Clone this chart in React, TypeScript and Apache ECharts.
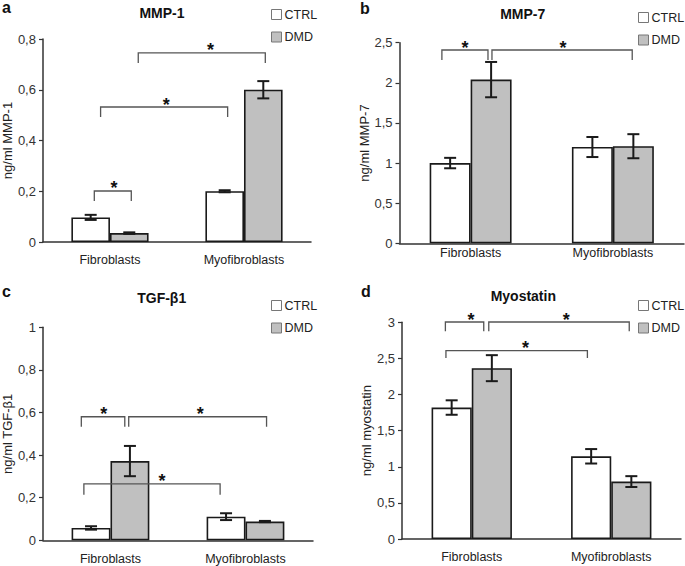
import React, { useEffect, useRef } from "react";
import * as echarts from "echarts";

const CATEGORIES = ["Fibroblasts", "Myofibroblasts"];
const SERIES_NAMES = ["CTRL", "DMD"];

// a: MMP-1
const MMP1_CTRL = [0.097, 0.2];
const MMP1_CTRL_ERR = [0.01, 0.004];
const MMP1_DMD = [0.035, 0.6];
const MMP1_DMD_ERR = [0.003, 0.034];
// b: MMP-7
const MMP7_CTRL = [1.0, 1.2];
const MMP7_CTRL_ERR = [0.065, 0.125];
const MMP7_DMD = [2.04, 1.21];
const MMP7_DMD_ERR = [0.22, 0.15];
// c: TGF-β1
const TGF_CTRL = [0.058, 0.111];
const TGF_CTRL_ERR = [0.008, 0.016];
const TGF_DMD = [0.372, 0.088];
const TGF_DMD_ERR = [0.071, 0.003];
// d: Myostatin
const MSTN_CTRL = [1.82, 1.145];
const MSTN_CTRL_ERR = [0.1, 0.1];
const MSTN_DMD = [2.365, 0.795];
const MSTN_DMD_ERR = [0.18, 0.075];

// significance brackets: x in category units (0 = Fibroblasts, 1 = Myofibroblasts), y in data units
const MMP1_BRACKETS = [
  { x1: -0.117, x2: 0.159, y: 0.201, yEnd: 0.162, starX: 0.03 },
  { x1: -0.07, x2: 0.878, y: 0.532, yEnd: 0.493, starX: 0.42 },
  { x1: 0.211, x2: 1.159, y: 0.745, yEnd: 0.705, starX: 0.75 },
];
const MMP7_BRACKETS = [
  { x1: -0.202, x2: 0.122, y: 2.409, yEnd: 2.285, starX: -0.04 },
  { x1: 0.15, x2: 1.136, y: 2.409, yEnd: 2.285, starX: 0.65 },
];
const TGF_BRACKETS = [
  { x1: -0.216, x2: 0.106, y: 0.58, yEnd: 0.533, starX: -0.05 },
  { x1: 0.135, x2: 1.156, y: 0.58, yEnd: 0.533, starX: 0.664 },
  { x1: -0.197, x2: 0.812, y: 0.265, yEnd: 0.214, starX: 0.382 },
];
const MSTN_BRACKETS = [
  { x1: -0.189, x2: 0.086, y: 3.004, yEnd: 2.876, starX: -0.005 },
  { x1: 0.122, x2: 1.129, y: 3.004, yEnd: 2.876, starX: 0.678 },
  { x1: -0.185, x2: 0.829, y: 2.607, yEnd: 2.506, starX: 0.386 },
];

const BAR_FRAC = 0.288;
const FONT = "Liberation Sans, Arial, sans-serif";

const PANELS = [
  {
    letter: "a", title: "MMP-1", yName: "ng/ml MMP-1", max: 0.8, interval: 0.2,
    ctrl: MMP1_CTRL, ctrlErr: MMP1_CTRL_ERR, dmd: MMP1_DMD, dmdErr: MMP1_DMD_ERR, brackets: MMP1_BRACKETS,
    grid: { left: 41, top: 39, width: 270, height: 203 }, nameGap: 22, labelMargin: 11,
    legend: { left: 271, top: 8 }, letterPos: [2, 7], titlePos: [162, 13],
  },
  {
    letter: "b", title: "MMP-7", yName: "ng/ml MMP-7", max: 2.5, interval: 0.5,
    ctrl: MMP7_CTRL, ctrlErr: MMP7_CTRL_ERR, dmd: MMP7_DMD, dmdErr: MMP7_DMD_ERR, brackets: MMP7_BRACKETS,
    grid: { left: 399.5, top: 42.7, width: 284.5, height: 200.6 }, nameGap: 26, labelMargin: 3,
    legend: { left: 638, top: 11 }, letterPos: [360, 8], titlePos: [522.7, 14],
  },
  {
    letter: "c", title: "TGF-β1", yName: "ng/ml TGF-β1", max: 1, interval: 0.2,
    ctrl: TGF_CTRL, ctrlErr: TGF_CTRL_ERR, dmd: TGF_DMD, dmdErr: TGF_DMD_ERR, brackets: TGF_BRACKETS,
    grid: { left: 42, top: 327.3, width: 271, height: 213 }, nameGap: 27, labelMargin: 12,
    legend: { left: 271, top: 299 }, letterPos: [2, 291], titlePos: [161.7, 298],
  },
  {
    letter: "d", title: "Myostatin", yName: "ng/ml myostatin", max: 3, interval: 0.5,
    ctrl: MSTN_CTRL, ctrlErr: MSTN_CTRL_ERR, dmd: MSTN_DMD, dmdErr: MSTN_DMD_ERR, brackets: MSTN_BRACKETS,
    grid: { left: 402, top: 322.3, width: 279, height: 216.7 }, nameGap: 26, labelMargin: 11,
    legend: { left: 638, top: 299 }, letterPos: [361, 291], titlePos: [523.3, 296],
  },
];

const fmt = (v: number) => String(Math.round(v * 10) / 10).replace(".", ",");

function errSeries(i: number, values: number[], errs: number[], side: number) {
  return {
    type: "custom",
    xAxisIndex: i,
    yAxisIndex: i,
    z: 5,
    silent: true,
    data: values.map((v, k) => [k, v - errs[k], v + errs[k]]),
    renderItem: (params: any, api: any) => {
      const cat = api.value(0);
      const lo = api.coord([cat, api.value(1)]);
      const hi = api.coord([cat, api.value(2)]);
      const bw = api.size([1, 0])[0];
      const x = lo[0] + (side * BAR_FRAC * bw) / 2;
      const cap = 6;
      const style = { stroke: "#1a1a1a", lineWidth: 2 };
      return {
        type: "group",
        children: [
          { type: "line", shape: { x1: x, y1: lo[1], x2: x, y2: hi[1] }, style },
          { type: "line", shape: { x1: x - cap, y1: hi[1], x2: x + cap, y2: hi[1] }, style },
          { type: "line", shape: { x1: x - cap, y1: lo[1], x2: x + cap, y2: lo[1] }, style },
        ],
      };
    },
  };
}

function bracketSeries(i: number, brackets: any[]) {
  return {
    type: "custom",
    xAxisIndex: i,
    yAxisIndex: i,
    z: 10,
    silent: true,
    clip: false,
    data: brackets.map((b) => [0, b.y]),
    renderItem: (params: any, api: any) => {
      const b = brackets[params.dataIndex];
      const p0 = api.coord([0, b.y]);
      const p1 = api.coord([1, b.y]);
      const span = p1[0] - p0[0];
      const px = (u: number) => p0[0] + u * span;
      const yTop = p0[1];
      const yEnd = api.coord([0, b.yEnd])[1];
      return {
        type: "group",
        children: [
          {
            type: "polyline",
            shape: {
              points: [
                [px(b.x1), yEnd],
                [px(b.x1), yTop],
                [px(b.x2), yTop],
                [px(b.x2), yEnd],
              ],
            },
            style: { stroke: "#555", lineWidth: 1.3, fill: "none" },
          },
          {
            type: "text",
            x: px(b.starX),
            y: yTop - 2.5,
            style: {
              text: "*",
              fontSize: 18,
              fontWeight: "bold",
              fontFamily: FONT,
              fill: "#111",
              align: "center",
              verticalAlign: "middle",
            },
          },
        ],
      };
    },
  };
}

export default function App() {
  const ref = useRef<HTMLDivElement>(null);
  useEffect(() => {
    if (!ref.current) return;
    const chart = echarts.init(ref.current, null, { renderer: "svg" });
    const grid: any[] = [];
    const xAxis: any[] = [];
    const yAxis: any[] = [];
    const series: any[] = [];
    const legend: any[] = [];
    const graphic: any[] = [];
    PANELS.forEach((p, i) => {
      grid.push({ ...p.grid, containLabel: false });
      xAxis.push({
        type: "category",
        gridIndex: i,
        data: CATEGORIES,
        axisTick: { show: false },
        axisLine: { lineStyle: { color: "#333", width: 1.5 } },
        axisLabel: { fontSize: 12.5, color: "#222", fontFamily: FONT, margin: p.labelMargin },
      });
      yAxis.push({
        type: "value",
        gridIndex: i,
        min: 0,
        max: p.max,
        interval: p.interval,
        name: p.yName,
        nameLocation: "middle",
        nameGap: p.nameGap,
        nameTextStyle: { fontSize: 13, color: "#222", fontFamily: FONT },
        axisLine: { show: true, lineStyle: { color: "#333", width: 1.5 } },
        axisTick: { show: true, length: 4, lineStyle: { color: "#333", width: 1.2 } },
        splitLine: { show: false },
        axisLabel: { fontSize: 13, color: "#333", fontFamily: FONT, margin: 7, formatter: fmt },
      });
      const barCommon = {
        type: "bar",
        xAxisIndex: i,
        yAxisIndex: i,
        barWidth: BAR_FRAC * 100 + "%",
        barGap: "0%",
      };
      series.push({
        ...barCommon,
        name: SERIES_NAMES[0],
        data: p.ctrl,
        itemStyle: { color: "#ffffff", borderColor: "#1a1a1a", borderWidth: 1.6 },
      });
      series.push({
        ...barCommon,
        name: SERIES_NAMES[1],
        data: p.dmd,
        itemStyle: { color: "#c0c0c0", borderColor: "#1a1a1a", borderWidth: 1.6 },
      });
      series.push(errSeries(i, p.ctrl, p.ctrlErr, -1));
      series.push(errSeries(i, p.dmd, p.dmdErr, 1));
      series.push(bracketSeries(i, p.brackets));
      legend.push({
        left: p.legend.left,
        top: p.legend.top,
        orient: "vertical",
        padding: 0,
        itemWidth: 10,
        itemHeight: 10,
        itemGap: 9.5,
        selectedMode: false,
        icon: "rect",
        textStyle: { fontSize: 12.5, color: "#222", fontFamily: FONT, padding: [0, 0, 0, -2] },
        data: [
          { name: SERIES_NAMES[0], itemStyle: { color: "#fff", borderColor: "#777", borderWidth: 1 } },
          { name: SERIES_NAMES[1], itemStyle: { color: "#c0c0c0", borderColor: "#777", borderWidth: 1 } },
        ],
      });
      graphic.push({
        type: "text",
        x: p.letterPos[0],
        y: p.letterPos[1],
        style: {
          text: p.letter,
          fontSize: 16,
          fontWeight: "bold",
          fontFamily: FONT,
          fill: "#111",
          align: "left",
          verticalAlign: "middle",
        },
      });
      graphic.push({
        type: "text",
        x: p.titlePos[0],
        y: p.titlePos[1],
        style: {
          text: p.title,
          fontSize: 14,
          fontWeight: "bold",
          fontFamily: FONT,
          fill: "#111",
          align: "center",
          verticalAlign: "middle",
        },
      });
    });
    chart.setOption({
      animation: false,
      backgroundColor: "#ffffff",
      grid,
      xAxis,
      yAxis,
      series,
      legend,
      graphic,
    });
    return () => chart.dispose();
  }, []);
  return (
    <div
      ref={ref}
      style={{ position: "fixed", left: 0, top: 0, width: 685, height: 566, background: "#fff" }}
    />
  );
}
